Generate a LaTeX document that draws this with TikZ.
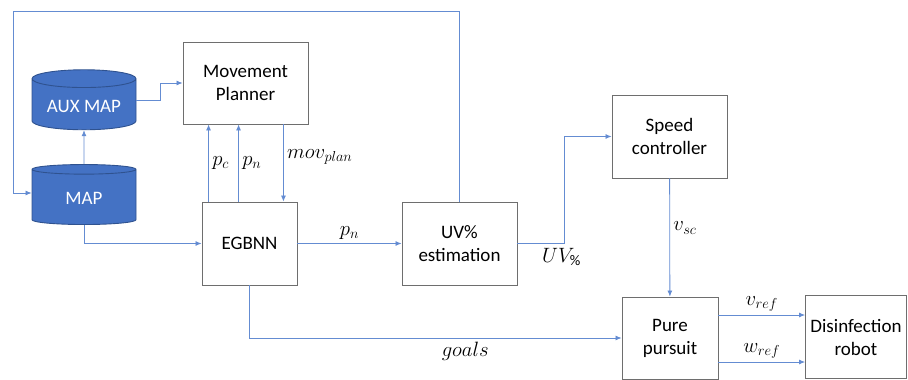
\documentclass[tikz,border=0pt]{standalone}
\usepackage{fontspec}
\setmainfont{Carlito}
\usetikzlibrary{arrows.meta,calc,shapes.geometric}
\definecolor{wire}{RGB}{100,140,210}
\definecolor{edge}{RGB}{110,110,110}
\definecolor{dbfill}{RGB}{68,114,196}
\definecolor{dbline}{RGB}{47,82,143}
\tikzset{pin/.style={-{Latex[length=6pt,width=5pt]}, draw=wire, line width=0.8pt},
  blk/.style={draw=edge, line width=0.9pt, align=center},
  db/.style={cylinder, shape border rotate=90, aspect=0.22, draw=dbline, fill=dbfill,
    text=white, line width=0.9pt, minimum width=104, minimum height=60},
  sig/.style={font=\fontsize{21}{24}\selectfont}}
\begin{document}
\begin{tikzpicture}[x=1pt, y=-1pt, font=\fontsize{19}{23}\selectfont]
  \useasboundingbox (0,0) rectangle (908,380);
  \node[blk, minimum width=125, minimum height=82] (mp) at (245.5,83) {Movement\\Planner};
  \node[db] (aux) at (84,106) {AUX MAP};
  \node[db] (map) at (84,198) {MAP};
  \node[blk, minimum width=95, minimum height=83] (egbnn) at (249.5,243.5) {EGBNN};
  \node[blk, minimum width=115, minimum height=83] (uv) at (459.5,243.5) {UV\%\\estimation};
  \node[blk, minimum width=115, minimum height=83] (spd) at (669.5,136.5) {Speed\\controller};
  \node[blk, minimum width=96, minimum height=82] (pp) at (670,338) {Pure\\pursuit};
  \node[blk, minimum width=101, minimum height=83] (robot) at (856,337) {Disinfection\\robot};
  \coordinate (loop) at (13,11);
  % maps
  \draw[pin] (map.north) -- (aux.south);
  \draw[pin] ([yshift=6pt]aux.east) -- ++(24,0) |- (mp.west);
  \draw[pin] (uv.north) |- (loop) |- ([yshift=5pt]map.west);
  \draw[pin] (map.south) |- (egbnn.west);
  % planner loop
  \draw[pin] ([xshift=7pt]egbnn.north west) -- node[right, sig]{$p_c$} ([xshift=7pt]egbnn.north west |- mp.south);
  \draw[pin] ([xshift=37pt]egbnn.north west) -- node[right, sig]{$p_n$} ([xshift=37pt]egbnn.north west |- mp.south);
  \draw[pin] ([xshift=-14pt]egbnn.north east |- mp.south) -- node[right, pos=0.42, sig]{$mov_{plan}$} ([xshift=-14pt]egbnn.north east);
  % forward chain
  \draw[pin] (egbnn) -- node[above, sig]{$p_n$} (uv);
  \draw[pin] (uv.east) -- ++(47,0) node[below=1pt, xshift=-3pt, sig]{$UV_{\%}$} |- (spd.west);
  \draw[pin] (spd) -- node[right, pos=0.42, sig]{$v_{sc}$} (pp);
  \draw[pin] (egbnn.south) |- node[below, pos=0.79, sig]{$goals$} (pp.west);
  \draw[pin] ([yshift=23pt]pp.east) -- node[above, sig]{$v_{ref}$} ([yshift=23pt]pp.east -| robot.west);
  \draw[pin] ([yshift=-24pt]pp.east) -- node[above, sig]{$w_{ref}$} ([yshift=-24pt]pp.east -| robot.west);
\end{tikzpicture}
\end{document}
